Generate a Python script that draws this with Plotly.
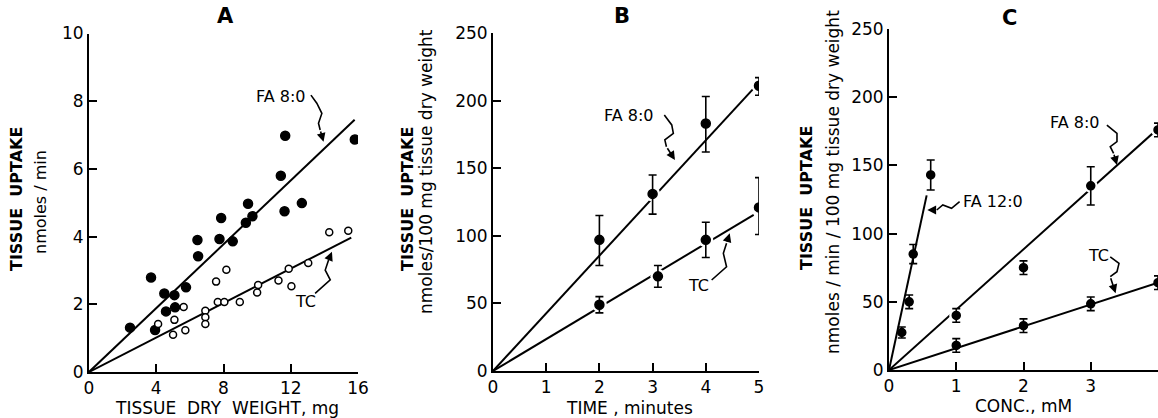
import plotly.graph_objects as go

W, H = 1158, 418

# ---------------- Panel A data ----------------
a_fa8_x = [2.44, 3.69, 3.93, 4.48, 4.58, 5.08, 5.12, 5.77, 6.45, 6.49, 7.86, 7.76, 8.55,
           9.33, 9.46, 9.72, 11.41, 11.67, 11.63, 12.66, 15.81]
a_fa8_y = [1.31, 2.79, 1.24, 2.32, 1.79, 2.27, 1.91, 2.50, 3.90, 3.42, 4.55, 3.93, 3.86,
           4.41, 4.97, 4.60, 5.80, 6.98, 4.75, 4.99, 6.87]
a_tc_x = [4.11, 5.00, 5.08, 5.63, 5.73, 6.92, 6.92, 6.92, 7.56, 7.66, 8.05, 8.17, 8.97,
          10.00, 10.06, 11.27, 11.88, 12.04, 13.04, 14.29, 15.42]
a_tc_y = [1.42, 1.10, 1.54, 1.92, 1.23, 1.81, 1.62, 1.42, 2.67, 2.07, 2.07, 3.02, 2.07,
          2.35, 2.57, 2.70, 3.05, 2.53, 3.22, 4.13, 4.17]
a_fa8_fit_x = [0, 15.8]
a_fa8_fit_y = [0, 7.45]
a_tc_fit_x = [0, 15.6]
a_tc_fit_y = [0, 3.97]

# ---------------- Panel B data ----------------
b_fa8_x = [2, 3, 4, 5]
b_fa8_y = [97, 131, 183, 211]
b_fa8_err_plus = [18, 14, 20, 6]
b_fa8_err_minus = [19, 15, 21, 7]
b_tc_x = [2, 3.1, 4, 5]
b_tc_y = [49, 70, 97, 121]
b_tc_err_plus = [6, 8, 13, 22]
b_tc_err_minus = [6, 8, 13, 20]
b_fa8_fit_x = [0, 4.9]
b_fa8_fit_y = [0, 209]
b_tc_fit_x = [0, 4.9]
b_tc_fit_y = [0, 115.5]

# ---------------- Panel C data ----------------
c_fa12_x = [0.19, 0.30, 0.36, 0.62]
c_fa12_y = [27.5, 50, 85, 143]
c_fa12_err = [4, 5, 7, 11]
c_fa8_x = [1, 2, 3, 4]
c_fa8_y = [40, 75, 135, 176]
c_fa8_err = [5, 5, 14, 5]
c_tc_x = [1, 2, 3, 4]
c_tc_y = [18, 32.5, 48.5, 64]
c_tc_err = [5, 5, 5, 5]
c_fa12_fit_x = [0, 0.56]
c_fa12_fit_y = [0, 128]
c_fa8_fit_x = [0, 4]
c_fa8_fit_y = [0, 177]
c_tc_fit_x = [0, 4]
c_tc_fit_y = [0, 64]

FONT = "DejaVu Sans"
BLACK = "black"

fig = go.Figure()

def line(x, y, xa, ya):
    fig.add_trace(go.Scatter(x=x, y=y, mode="lines", xaxis=xa, yaxis=ya,
                             line=dict(color=BLACK, width=2), hoverinfo="skip"))

def pts(x, y, xa, ya, size=9, open_=False, ep=None, em=None, gap=False):
    kw = {}
    if ep is not None:
        kw["error_y"] = dict(type="data", array=ep, arrayminus=em if em is not None else ep,
                             symmetric=em is None, color=BLACK, thickness=1.6, width=4)
    if gap:
        # white halo to imitate the break of the fitted line around each point
        fig.add_trace(go.Scatter(x=x, y=y, mode="markers", xaxis=xa, yaxis=ya,
                                 marker=dict(size=size + 6, color="white"), hoverinfo="skip"))
    fig.add_trace(go.Scatter(
        x=x, y=y, mode="markers", xaxis=xa, yaxis=ya,
        marker=dict(size=size, color="white" if open_ else BLACK,
                    line=dict(color=BLACK, width=1.5)),
        **kw))

# Panel A
line(a_fa8_fit_x, a_fa8_fit_y, "x", "y")
line(a_tc_fit_x, a_tc_fit_y, "x", "y")
pts(a_fa8_x, a_fa8_y, "x", "y", size=9)
pts(a_tc_x, a_tc_y, "x", "y", size=7, open_=True)

# Panel B
line(b_fa8_fit_x, b_fa8_fit_y, "x2", "y2")
line(b_tc_fit_x, b_tc_fit_y, "x2", "y2")
pts(b_fa8_x, b_fa8_y, "x2", "y2", size=9, ep=b_fa8_err_plus, em=b_fa8_err_minus, gap=True)
pts(b_tc_x, b_tc_y, "x2", "y2", size=9, ep=b_tc_err_plus, em=b_tc_err_minus, gap=True)

# Panel C
line(c_fa12_fit_x, c_fa12_fit_y, "x3", "y3")
line(c_fa8_fit_x, c_fa8_fit_y, "x3", "y3")
line(c_tc_fit_x, c_tc_fit_y, "x3", "y3")
pts(c_fa12_x, c_fa12_y, "x3", "y3", size=8, ep=c_fa12_err)
pts(c_fa8_x, c_fa8_y, "x3", "y3", size=8, ep=c_fa8_err, gap=True)
pts(c_tc_x, c_tc_y, "x3", "y3", size=8, ep=c_tc_err)


def axis(rng, tickvals, domain, anchor):
    return dict(range=rng, tickvals=tickvals, domain=domain, anchor=anchor,
                showline=True, linecolor=BLACK, linewidth=2, mirror=False,
                ticks="inside", ticklen=8, tickwidth=2, tickcolor=BLACK,
                showgrid=False, zeroline=False, automargin=False,
                tickfont=dict(family=FONT, size=17, color=BLACK))

def px(v):
    return v / W

def py(v):
    return 1 - v / H

fig.update_layout(
    xaxis=axis([0, 16], [0, 4, 8, 12, 16], [px(89), px(358)], "y"),
    yaxis=axis([0, 10], [0, 2, 4, 6, 8, 10], [py(372), py(33.5)], "x"),
    xaxis2=axis([0, 5], [0, 1, 2, 3, 4, 5], [px(493), px(759)], "y2"),
    yaxis2=axis([0, 250], [0, 50, 100, 150, 200, 250], [py(371), py(33)], "x2"),
    xaxis3=axis([0, 4], [0, 1, 2, 3, 4], [px(889), 1.0], "y3"),
    yaxis3=axis([0, 250], [0, 50, 100, 150, 200, 250], [py(370), py(29)], "x3"),
)

ann = []

def text(x, y, s, size=16, bold=False, angle=0, xanchor="center"):
    ann.append(dict(x=px(x), y=py(y), xref="paper", yref="paper", text=s,
                    showarrow=False, textangle=angle, xanchor=xanchor, yanchor="middle",
                    font=dict(family=FONT, size=size, color=BLACK,
                              weight="bold" if bold else "normal")))

# Panel titles
text(225, 16, "A", size=21, bold=True)
text(622, 16, "B", size=21, bold=True)
text(1009, 18, "C", size=21, bold=True)

# Y axis titles
text(16, 199, "TISSUE  UPTAKE", size=16, bold=True, angle=-90)
text(40, 202, "nmoles / min", size=16, angle=-90)
text(407, 199, "TISSUE  UPTAKE", size=16, bold=True, angle=-90)
text(426, 171, "nmoles/100 mg tissue dry weight", size=17, angle=-90)
text(807, 198, "TISSUE  UPTAKE", size=16, bold=True, angle=-90)
text(833, 182, "nmoles / min / 100 mg tissue dry weight", size=17, angle=-90)

# X axis titles
text(227, 408, "TISSUE  DRY  WEIGHT, mg", size=17)
text(629, 408, "TIME , minutes", size=17)
text(1023, 406, "CONC., mM", size=17)

# Curve labels (data coords)
def label(xr, yr, x, y, s):
    ann.append(dict(x=x, y=y, xref=xr, yref=yr, text=s, showarrow=False,
                    font=dict(family=FONT, size=16, color=BLACK)))

label("x", "y", 11.4, 8.15, "FA 8:0")
label("x", "y", 12.85, 2.07, "TC")
label("x2", "y2", 2.55, 189, "FA 8:0")
label("x2", "y2", 3.87, 63.6, "TC")
label("x3", "y3", 1.55, 123.4, "FA 12:0")
label("x3", "y3", 2.77, 181.3, "FA 8:0")
label("x3", "y3", 3.12, 84.3, "TC")

shapes = []

def squiggle(xr, yr, ptsx, ptsy, headx, heady):
    d = f"M {ptsx[0]},{ptsy[0]}"
    for i in range(1, len(ptsx)):
        d += f" L {ptsx[i]},{ptsy[i]}"
    shapes.append(dict(type="path", path=d, xref=xr, yref=yr,
                       line=dict(color=BLACK, width=1.6), layer="above"))
    ann.append(dict(x=headx, y=heady, ax=ptsx[-1], ay=ptsy[-1], xref=xr, yref=yr,
                    axref=xr, ayref=yr, text="", showarrow=True, arrowhead=2,
                    arrowsize=1.1, arrowwidth=1.6, arrowcolor=BLACK))

squiggle("x", "y", [13.2, 13.55, 13.85, 13.65, 13.75], [8.18, 7.94, 7.64, 7.35, 7.15], 13.95, 6.80)
squiggle("x", "y", [13.45, 14.35, 14.05, 14.25], [2.32, 2.72, 3.01, 3.31], 14.45, 3.55)
squiggle("x2", "y2", [3.22, 3.36, 3.39, 3.23, 3.26], [189.3, 182, 175.8, 170.9, 165.9], 3.42, 156)
squiggle("x2", "y2", [4.11, 4.39, 4.33, 4.39], [67.3, 77.1, 87, 94.5], 4.45, 101.8)
squiggle("x3", "y3", [1.05, 0.93, 0.80, 0.71], [123.4, 118.5, 121, 117.3], 0.57, 117.3)
squiggle("x3", "y3", [3.24, 3.39, 3.39, 3.29, 3.34], [179.6, 173.5, 167.4, 163.7, 158.9], 3.39, 150.3)
squiggle("x3", "y3", [3.29, 3.42, 3.39, 3.29], [83, 78.2, 72.1, 68.4], 3.37, 56.2)

fig.update_layout(
    width=W, height=H, template="none",
    margin=dict(l=0, r=0, t=0, b=0),
    paper_bgcolor="white", plot_bgcolor="white",
    showlegend=False, annotations=ann, shapes=shapes,
    font=dict(family=FONT, color=BLACK),
)

fig.write_html("out.html")
